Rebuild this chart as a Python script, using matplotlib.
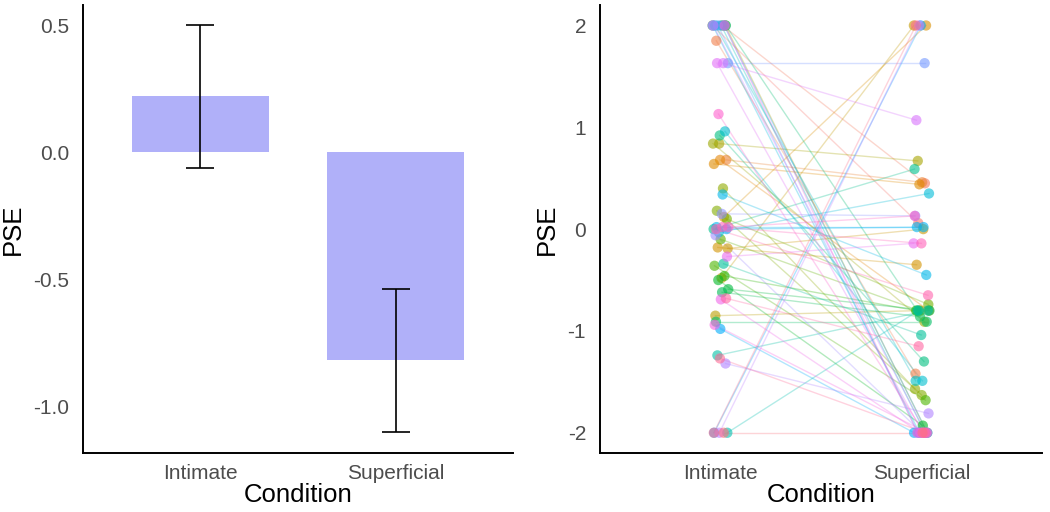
import numpy as np
import matplotlib
matplotlib.use("Agg")
import matplotlib.pyplot as plt

plt.rcParams['font.family'] = ['Liberation Sans', 'DejaVu Sans']

# summary panel
conditions = ['Intimate', 'Superficial']
pse_means = [0.22, -0.82]
pse_ci = [0.283, 0.283]

# per-participant PSE, ordered by participant id
pse_intimate = [2, 2, 1.85, 0.68, 0.68, 0.64, 0.12, -0.18, -0.19, -0.48, -0.85,
                2, 0.84, 0.84, 0.40, 0.18, 0.10, -0.10, -0.36, -0.46, -0.50, -0.59, -0.62, -0.91,
                2, 0.92, 0.0, -0.34, -1.24, -2,
                2, 2, 0.96, -0.03,
                2, 0.34, 0.02, 0.0, -0.98, -2,
                2, 2, 1.63, 0.15, -0.06, -1.32, -2,
                2, 1.63, 1.63, -0.27, -0.69, -0.94,
                2, 1.13, 0.02, 0.02, 0.0, -0.68, -1.27, -2, -2]
pse_superficial = [0.06, 0.45, -1.42, 0.46, -0.80, 0.44, 2, -0.35, 0.0, 2, -0.80,
                   -2, 0.67, -0.91, -1.57, -1.63, -0.74, -0.80, -1.68, -0.80, -1.93, -0.80, -0.86, -0.91,
                   -0.80, -1.30, 0.59, -1.04, -0.80, -0.80,
                   -2, -1.49, -1.49, 0.35,
                   -2, -0.45, 0.02, 0.02, -2, 2,
                   -2, -2, 1.63, 0.13, -2, -1.81, 2,
                   -2, 1.07, -2, -0.14, -2, -2,
                   -2, -2, 0.13, -0.14, -0.65, -1.15, -2, 2, -2]


def hue_pal(n, c=100.0, l=65.0):
    # ggplot2 default hue palette (polar CIE-Luv)
    hues = np.linspace(15, 375, n + 1)[:n]
    un, vn = 0.1978398, 0.4683363
    cols = []
    for h in hues:
        u = c * np.cos(np.radians(h))
        v = c * np.sin(np.radians(h))
        Y = 100 * ((l + 16) / 116) ** 3
        up = u / (13 * l) + un
        vp = v / (13 * l) + vn
        X = 9.0 * Y * up / (4 * vp)
        Z = -X / 3 - 5 * Y + 3 * Y / vp
        X, Y, Z = X / 100, Y / 100, Z / 100
        rgb = [3.240479 * X - 1.537150 * Y - 0.498535 * Z,
               -0.969256 * X + 1.875992 * Y + 0.041556 * Z,
               0.055648 * X - 0.204043 * Y + 1.057311 * Z]
        out = []
        for ch in rgb:
            ch = 12.92 * ch if ch <= 0.0031308 else 1.055 * ch ** (1 / 2.4) - 0.055
            out.append(min(max(ch, 0), 1))
        cols.append(tuple(out))
    return cols


def style_axes(ax):
    for s in ['top', 'right']:
        ax.spines[s].set_visible(False)
    for s in ['left', 'bottom']:
        ax.spines[s].set_linewidth(1.4)
        ax.spines[s].set_color('black')
    ax.tick_params(length=0, labelsize=15, labelcolor='#4D4D4D', pad=10)
    ax.tick_params(axis='x', pad=8)
    ax.set_xlim(0.4, 2.6)
    ax.set_xticks([1, 2])
    ax.set_xticklabels(conditions)
    ax.set_xlabel('Condition', fontsize=18.5, labelpad=0)
    ax.set_ylabel('PSE', fontsize=18.5, labelpad=6)


fig = plt.figure(figsize=(10.5, 5.12), dpi=100)
ax1 = fig.add_axes([0.079, 0.115, 0.4096, 0.875])
ax2 = fig.add_axes([0.5714, 0.115, 0.421, 0.875])

# left: means with CI
x = np.array([1, 2])
ax1.bar(x, pse_means, width=0.7, color='#b0b0f9', zorder=1)
ax1.errorbar(x, pse_means, yerr=pse_ci, fmt='none', ecolor='black',
             elinewidth=1.2, capsize=10, capthick=1.2, zorder=2)
ax1.set_ylim(-1.185, 0.58)
ax1.set_yticks([-1.0, -0.5, 0.0, 0.5])
ax1.set_yticklabels(['-1.0', '-0.5', '0.0', '0.5'])
style_axes(ax1)

# right: paired individual points
n = len(pse_intimate)
colors = hue_pal(n)
idx = np.arange(n)
jit1 = ((idx * 0.618034) % 1 - 0.5) * 0.08
jit2 = ((idx * 0.414214 + 0.3) % 1 - 0.5) * 0.08
for i in range(n):
    ax2.plot([1 + jit1[i], 2 + jit2[i]], [pse_intimate[i], pse_superficial[i]],
             color=colors[i], alpha=0.3, lw=1.0, zorder=1)
ax2.scatter(1 + jit1, pse_intimate, s=55, c=colors, alpha=0.6, edgecolors='none', zorder=2)
ax2.scatter(2 + jit2, pse_superficial, s=55, c=colors, alpha=0.6, edgecolors='none', zorder=2)
ax2.set_ylim(-2.2, 2.2)
ax2.set_yticks([-2, -1, 0, 1, 2])
ax2.set_yticklabels(['-2', '-1', '0', '1', '2'])
style_axes(ax2)

fig.savefig('out.png', dpi=100)
